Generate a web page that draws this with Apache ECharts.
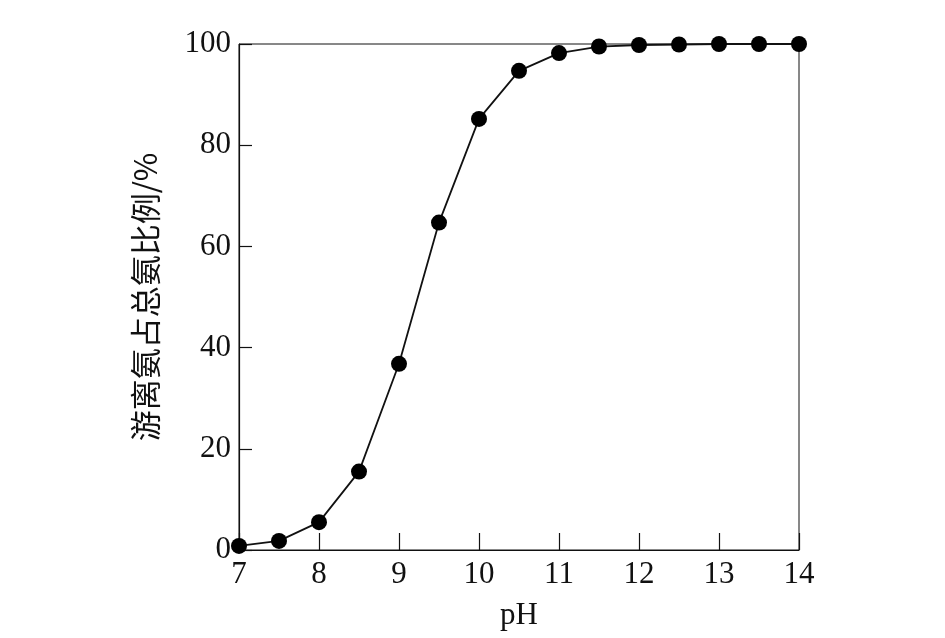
<!DOCTYPE html>
<html><head><meta charset="utf-8">
<script src="https://cdn.jsdelivr.net/npm/echarts@6/dist/echarts.min.js"></script>
<style>html,body{margin:0;padding:0;background:#fff}#c{width:945px;height:638px}</style>
</head><body><div id="c"></div>
<script>
const pH = [7, 7.5, 8, 8.5, 9, 9.5, 10, 10.5, 11, 11.5, 12, 12.5, 13, 13.5, 14];
const freeAmmonia = [0.8, 1.8, 5.5, 15.5, 36.8, 64.7, 85.2, 94.7, 98.2, 99.5, 99.8, 99.9, 100, 100, 100];
const xTicks = [7, 8, 9, 10, 11, 12, 13, 14];
const yTicks = [0, 20, 40, 60, 80, 100];
const xName = 'pH';
const yName = '游离氨占总氨比例/%';

const chart = echarts.init(document.getElementById('c'));
const serif = '"Liberation Serif", "DejaVu Serif", serif';
chart.setOption({
  animation: false,
  backgroundColor: '#fff',
  grid: { left: 239, right: 146, top: 44, bottom: 88, show: true, borderColor: '#111', borderWidth: 1 },
  xAxis: {
    type: 'value', min: xTicks[0], max: xTicks[xTicks.length - 1], interval: 1,
    name: xName, nameLocation: 'middle', nameGap: 50,
    nameTextStyle: { fontFamily: serif, fontSize: 31, color: '#111' },
    axisLine: { lineStyle: { color: '#111', width: 1.2 } },
    axisTick: { inside: true, length: 17, lineStyle: { color: '#111', width: 1.2 } },
    axisLabel: { fontFamily: serif, fontSize: 31, color: '#111', margin: 9 },
    splitLine: { show: false }
  },
  yAxis: {
    type: 'value', min: yTicks[0], max: yTicks[yTicks.length - 1], interval: 20,
    name: yName, nameLocation: 'middle', nameGap: 78, nameRotate: 90,
    nameTextStyle: { fontFamily: '"Noto Sans CJK SC", sans-serif', fontSize: 31, color: '#111' },
    axisLine: { lineStyle: { color: '#111', width: 1.2 } },
    axisTick: { inside: true, length: 13, lineStyle: { color: '#111', width: 1.2 } },
    axisLabel: { fontFamily: serif, fontSize: 31, color: '#111', margin: 8 },
    splitLine: { show: false }
  },
  series: [{
    type: 'line',
    data: pH.map((x, i) => [x, freeAmmonia[i]]),
    symbol: 'circle', symbolSize: 16, clip: false,
    itemStyle: { color: '#000' },
    lineStyle: { color: '#111', width: 1.8 }
  }]
});
</script></body></html>
